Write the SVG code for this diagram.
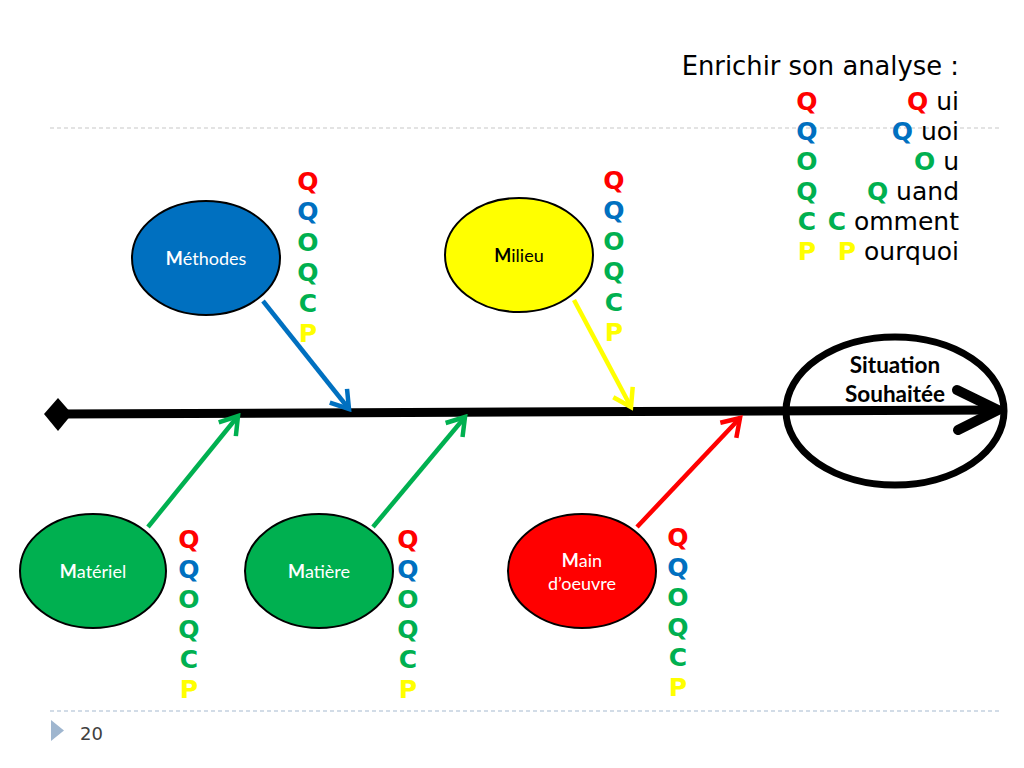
<svg xmlns="http://www.w3.org/2000/svg" width="1024" height="768" viewBox="0 0 1024 768">
<style>
.lbl{font-family:Lato,"Liberation Sans",sans-serif;font-size:18px;text-anchor:middle}
.w{fill:#ffffff}
.k{fill:#000000}
.b{font-weight:bold}
.col{font-family:"DejaVu Sans","Liberation Sans",sans-serif;font-size:25px;font-weight:bold;text-anchor:middle}
.leg{font-family:"DejaVu Sans","Liberation Sans",sans-serif;font-size:25px;fill:#000}
.ttl{font-size:25.8px}
.red{fill:#FF0000}.blu{fill:#0070C0}.grn{fill:#00B050}.yel{fill:#FFFF00}
.node{stroke:#000;stroke-width:2}
.br{stroke-width:4.5;fill:none}
</style>
<defs>
<marker id="aBlue" markerUnits="userSpaceOnUse" viewBox="-24 -14 28 28" refX="0" refY="0" markerWidth="28" markerHeight="28" orient="auto"><path d="M-17 -11 L0 0 L-17 11" fill="none" stroke="#0070C0" stroke-width="4.5"/></marker>
<marker id="aYel" markerUnits="userSpaceOnUse" viewBox="-24 -14 28 28" refX="0" refY="0" markerWidth="28" markerHeight="28" orient="auto"><path d="M-17 -11 L0 0 L-17 11" fill="none" stroke="#FFFF00" stroke-width="4.5"/></marker>
<marker id="aGrn" markerUnits="userSpaceOnUse" viewBox="-24 -14 28 28" refX="0" refY="0" markerWidth="28" markerHeight="28" orient="auto"><path d="M-17 -11 L0 0 L-17 11" fill="none" stroke="#00B050" stroke-width="4.5"/></marker>
<marker id="aRed" markerUnits="userSpaceOnUse" viewBox="-24 -14 28 28" refX="0" refY="0" markerWidth="28" markerHeight="28" orient="auto"><path d="M-17 -11 L0 0 L-17 11" fill="none" stroke="#FF0000" stroke-width="4.5"/></marker>
</defs>
<rect width="1024" height="768" fill="#ffffff"/>
<!-- slide guides -->
<line x1="50" y1="128" x2="1000" y2="128" stroke="#c8c8c8" stroke-width="1.2" stroke-dasharray="4 3"/>
<line x1="50" y1="711" x2="1000" y2="711" stroke="#a6b9cf" stroke-width="1.2" stroke-dasharray="4 3"/>
<polygon points="51,720 64,730.5 51,741" fill="#9fb6cf"/>
<text x="80" y="740" font-family="'DejaVu Sans','Liberation Sans',sans-serif" font-size="18" fill="#404040">20</text>

<!-- spine -->
<g id="spine">
<line x1="60" y1="414" x2="996" y2="410" stroke="#000" stroke-width="9"/>
<polygon points="44,414 58,398 72,414 58,431" fill="#000"/>
<polyline points="957,390 998,410 958,430" fill="none" stroke="#000" stroke-width="10" stroke-linecap="round" stroke-linejoin="round"/>
</g>

<g id="connectors">
<line class="br" x1="263" y1="301" x2="349" y2="409" stroke="#0070C0" marker-end="url(#aBlue)"/>
<line class="br" x1="574" y1="300" x2="631" y2="407" stroke="#FFFF00" marker-end="url(#aYel)"/>
<line class="br" x1="148" y1="527" x2="238" y2="416" stroke="#00B050" marker-end="url(#aGrn)"/>
<line class="br" x1="373" y1="527" x2="465" y2="417" stroke="#00B050" marker-end="url(#aGrn)"/>
<line class="br" x1="637" y1="527" x2="740" y2="418" stroke="#FF0000" marker-end="url(#aRed)"/>
</g>

<g id="situation">
<ellipse cx="895" cy="411" rx="109" ry="74" fill="none" stroke="#000" stroke-width="7"/>
<text x="895" y="373" font-family="Lato,'Liberation Sans',sans-serif" font-size="22.5" font-weight="bold" text-anchor="middle">Situation</text>
<text x="895" y="402" font-family="Lato,'Liberation Sans',sans-serif" font-size="22.5" font-weight="bold" text-anchor="middle">Souhaitée</text>
</g>

<g id="methodes">
<ellipse class="node" cx="206" cy="258" rx="74" ry="57" fill="#0070C0"/>
<text class="lbl w" x="206" y="265"><tspan class="b">M</tspan>éthodes</text>
<text class="col" x="308"><tspan class="red" y="190">Q</tspan><tspan class="blu" x="308" y="220">Q</tspan><tspan class="grn" x="308" y="251">O</tspan><tspan class="grn" x="308" y="281">Q</tspan><tspan class="grn" x="308" y="312">C</tspan><tspan class="yel" x="308" y="342">P</tspan></text>
</g>

<g id="milieu">
<ellipse class="node" cx="519" cy="255" rx="74" ry="57" fill="#FFFF00"/>
<text class="lbl k" x="519" y="262"><tspan class="b">M</tspan>ilieu</text>
<text class="col" x="614"><tspan class="red" y="189">Q</tspan><tspan class="blu" x="614" y="219">Q</tspan><tspan class="grn" x="614" y="250">O</tspan><tspan class="grn" x="614" y="280">Q</tspan><tspan class="grn" x="614" y="311">C</tspan><tspan class="yel" x="614" y="341">P</tspan></text>
</g>

<g id="materiel">
<ellipse class="node" cx="93" cy="571" rx="73" ry="57" fill="#00B050"/>
<text class="lbl w" x="93" y="578"><tspan class="b">M</tspan>atériel</text>
<text class="col" x="189"><tspan class="red" y="548">Q</tspan><tspan class="blu" x="189" y="578">Q</tspan><tspan class="grn" x="189" y="608">O</tspan><tspan class="grn" x="189" y="638">Q</tspan><tspan class="grn" x="189" y="668">C</tspan><tspan class="yel" x="189" y="698">P</tspan></text>
</g>

<g id="matiere">
<ellipse class="node" cx="319" cy="571" rx="74" ry="57" fill="#00B050"/>
<text class="lbl w" x="319" y="578"><tspan class="b">M</tspan>atière</text>
<text class="col" x="408"><tspan class="red" y="548">Q</tspan><tspan class="blu" x="408" y="578">Q</tspan><tspan class="grn" x="408" y="608">O</tspan><tspan class="grn" x="408" y="638">Q</tspan><tspan class="grn" x="408" y="668">C</tspan><tspan class="yel" x="408" y="698">P</tspan></text>
</g>

<g id="main-oeuvre">
<ellipse class="node" cx="582" cy="571" rx="74" ry="57" fill="#FF0000"/>
<text class="lbl w" x="582" y="567"><tspan class="b">M</tspan>ain</text>
<text class="lbl w" x="582" y="590">d’oeuvre</text>
<text class="col" x="678"><tspan class="red" y="546">Q</tspan><tspan class="blu" x="678" y="576">Q</tspan><tspan class="grn" x="678" y="606">O</tspan><tspan class="grn" x="678" y="636">Q</tspan><tspan class="grn" x="678" y="666">C</tspan><tspan class="yel" x="678" y="696">P</tspan></text>
</g>

<g id="legend">
<text class="leg ttl" x="959" y="75" text-anchor="end">Enrichir son analyse :</text>
<text class="col" x="807"><tspan class="red" y="110">Q</tspan><tspan class="blu" x="807" y="140">Q</tspan><tspan class="grn" x="807" y="170">O</tspan><tspan class="grn" x="807" y="200">Q</tspan><tspan class="grn" x="807" y="230">C</tspan><tspan class="yel" x="807" y="260">P</tspan></text>
<text class="leg" x="959" y="110" text-anchor="end"><tspan class="b red">Q</tspan> ui</text>
<text class="leg" x="959" y="140" text-anchor="end"><tspan class="b blu">Q</tspan> uoi</text>
<text class="leg" x="959" y="170" text-anchor="end"><tspan class="b grn">O</tspan> u</text>
<text class="leg" x="959" y="200" text-anchor="end"><tspan class="b grn">Q</tspan> uand</text>
<text class="leg" x="959" y="230" text-anchor="end"><tspan class="b grn">C</tspan> omment</text>
<text class="leg" x="959" y="260" text-anchor="end"><tspan class="b yel">P</tspan> ourquoi</text>
</g>
</svg>
